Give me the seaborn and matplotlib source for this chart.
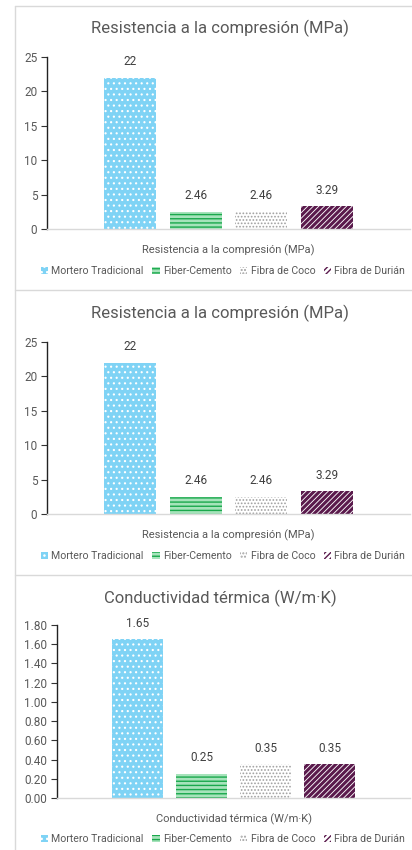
import numpy as np
import pandas as pd
import matplotlib
matplotlib.use("Agg")
import matplotlib.pyplot as plt
import seaborn as sns
from matplotlib.patches import Patch
from matplotlib.lines import Line2D

# ---------------- data ----------------
series = ["Mortero Tradicional", "Fiber-Cemento", "Fibra de Coco", "Fibra de Durián"]

comp_title = "Resistencia a la compresión (MPa)"
comp_category = "Resistencia a la compresión (MPa)"
comp_values = [22, 2.46, 2.46, 3.29]
comp_value_labels = ["22", "2.46", "2.46", "3.29"]
comp_yticks = [0, 5, 10, 15, 20, 25]

cond_title = "Conductividad térmica (W/m·K)"
cond_category = "Conductividad térmica (W/m·K)"
cond_values = [1.65, 0.25, 0.35, 0.35]
cond_value_labels = ["1.65", "0.25", "0.35", "0.35"]
cond_yticks = [0.0, 0.2, 0.4, 0.6, 0.8, 1.0, 1.2, 1.4, 1.6, 1.8]

# ---------------- style ----------------
sns.set_theme(style="white")
plt.rcParams["font.family"] = ["Roboto", "DejaVu Sans"]
plt.rcParams["hatch.linewidth"] = 1.0

faces = ["#7fd3f5", "#a6e3bb", "#ffffff", "#ffffff"]
hatches = ["...", "----", ".....", "//////"]
hatch_cols = ["#ffffff", "#1aa84c", "#a0a0a0", "#5a1a4c"]
hatch_lw = [0.8, 1.0, 0.8, 2.2]

TXT = "#595959"
GRID = "#d9d9d9"

W, H = 412, 850
fig = plt.figure(figsize=(W / 100, H / 100), dpi=100)
fig.patch.set_facecolor("white")


def px_rect(l, t, r, b):
    return [l / W, 1 - b / H, (r - l) / W, (b - t) / H]


panels = [
    dict(title=comp_title, cat=comp_category, vals=comp_values, labs=comp_value_labels,
         yticks=comp_yticks, fmt="{:g}", rect=(47, 57, 410, 229), title_y=28, leg_y=271),
    dict(title=comp_title, cat=comp_category, vals=comp_values, labs=comp_value_labels,
         yticks=comp_yticks, fmt="{:g}", rect=(47, 342, 410, 514), title_y=313, leg_y=556),
    dict(title=cond_title, cat=cond_category, vals=cond_values, labs=cond_value_labels,
         yticks=cond_yticks, fmt="{:.2f}", rect=(57, 625, 410, 798), title_y=598, leg_y=839),
]

for p in panels:
    ax = fig.add_axes(px_rect(*p["rect"]))
    df = pd.DataFrame({"metric": [p["cat"]] * len(series), "series": series, "value": p["vals"]})
    sns.barplot(data=df, x="metric", y="value", hue="series", hue_order=series,
                width=0.725, gap=0.21, ax=ax, legend=False,
                palette=dict(zip(series, faces)), saturation=1)
    for i, cont in enumerate(ax.containers):
        for bar in cont:
            bar.set_facecolor(faces[i])
            bar.set_edgecolor(hatch_cols[i])
            bar.set_hatch(hatches[i])
            bar.set_linewidth(0)
            if hasattr(bar, "set_hatch_linewidth"):
                bar.set_hatch_linewidth(hatch_lw[i])
        ax.bar_label(cont, labels=[p["labs"][i]], padding=7, fontsize=8.5, color="#404040")

    ax.set_xlim(-0.5, 0.5)
    ax.set_ylim(p["yticks"][0], p["yticks"][-1])
    ax.set_yticks(p["yticks"])
    ax.set_yticklabels([p["fmt"].format(v) for v in p["yticks"]])
    ax.set_xlabel("")
    ax.set_ylabel("")
    ax.tick_params(axis="y", which="both", left=True, length=4, width=0.8, color="#333333",
                   labelsize=8.5, labelcolor=TXT, pad=3)
    ax.tick_params(axis="x", bottom=False, labelsize=8, labelcolor=TXT, pad=5)
    for s in ["top", "right"]:
        ax.spines[s].set_visible(False)
    ax.spines["left"].set_color("#222222")
    ax.spines["left"].set_linewidth(1.0)
    ax.spines["bottom"].set_color(GRID)
    ax.spines["bottom"].set_linewidth(1.0)
    ax.set_facecolor("none")

    fig.text(220 / W, 1 - p["title_y"] / H, p["title"], ha="center", va="center",
             fontsize=12, color=TXT)

    handles = [Patch(facecolor=faces[i], edgecolor=hatch_cols[i], hatch=hatches[i], linewidth=0)
               for i in range(len(series))]
    fig.legend(handles, series, loc="center", bbox_to_anchor=(223 / W, 1 - p["leg_y"] / H),
               ncol=4, frameon=False, fontsize=7.6, handlelength=0.7, handleheight=0.7,
               handletextpad=0.3, columnspacing=0.8, labelcolor=TXT, borderaxespad=0,
               borderpad=0)

# panel borders
fig.add_artist(Line2D([15 / W, 15 / W], [0, 1 - 6 / H], color=GRID, lw=1))
for yb in [6, 290, 575]:
    fig.add_artist(Line2D([15 / W, 1], [1 - yb / H, 1 - yb / H], color=GRID, lw=1))

fig.savefig("out.png", dpi=100, facecolor="white")
